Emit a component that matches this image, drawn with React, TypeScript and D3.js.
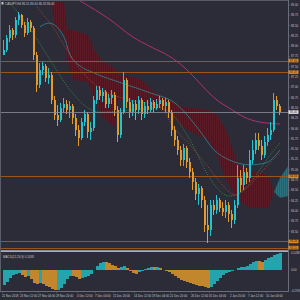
import React from 'react';
import * as d3 from 'd3';

// ---------- data ----------
const TITLE = 'CADJPY,H4  86.55 86.60 86.33 86.40';
const MACD_LABEL = 'MACD(12,26,9) 0.1438';
const FIRST_OPEN = 87.79;

const closes = [
  87.91, 88.20, 88.39, 88.27, 88.63, 88.76, 88.51, 88.32, 88.59, 88.44,
  87.79, 87.06, 87.42, 87.52, 87.23, 87.30, 86.69, 86.33, 86.21, 86.50,
  86.60, 86.45, 86.55, 86.26, 85.97, 85.77, 86.16, 86.35, 85.92, 86.01,
  86.69, 86.94, 86.79, 86.89, 86.60, 86.74, 86.81, 86.45, 85.84, 86.40,
  87.18, 86.64, 86.40, 86.60, 86.45, 86.69, 86.35, 86.55, 86.45, 86.64,
  86.50, 86.60, 86.69, 86.55, 86.64, 86.40, 85.97, 85.72, 85.48, 85.24,
  85.53, 85.19, 84.95, 84.70, 84.41, 84.56, 84.27, 83.66, 83.54, 84.14,
  84.02, 84.27, 84.07, 83.97, 84.14, 83.93, 83.78, 84.14, 84.80, 84.63,
  84.95, 84.80, 85.24, 85.48, 85.72, 85.58, 85.36, 85.67, 85.84, 85.97,
  86.69, 86.55, 86.40,
];
const highs = [
  88.15, 88.27, 88.51, 88.44, 88.71, 88.83, 88.78, 88.59, 88.68, 88.63,
  88.49, 87.86, 87.59, 87.62, 87.57, 87.47, 87.37, 86.79, 86.57, 86.62,
  86.74, 86.69, 86.67, 86.60, 86.35, 86.09, 86.26, 86.45, 86.40, 86.16,
  86.79, 87.03, 87.03, 86.98, 86.94, 86.84, 86.94, 86.89, 86.55, 86.50,
  87.37, 87.23, 86.74, 86.69, 86.69, 86.79, 86.74, 86.64, 86.69, 86.74,
  86.69, 86.72, 86.79, 86.74, 86.74, 86.69, 86.45, 86.06, 85.82, 85.58,
  85.63, 85.58, 85.29, 85.04, 84.80, 84.65, 84.61, 84.36, 84.14, 84.27,
  84.27, 84.39, 84.31, 84.22, 84.27, 84.22, 84.02, 84.27, 85.12, 84.99,
  85.12, 85.04, 85.48, 85.72, 85.89, 85.89, 85.72, 85.82, 86.01, 86.16,
  86.86, 86.79, 86.60,
];
const lows = [
  87.79, 87.86, 88.10, 88.15, 88.20, 88.51, 88.44, 88.22, 88.27, 88.34,
  87.66, 86.89, 86.98, 87.30, 87.13, 87.08, 86.60, 86.21, 86.06, 86.16,
  86.40, 86.35, 86.26, 86.11, 85.82, 85.58, 85.72, 86.06, 85.77, 85.72,
  85.94, 86.60, 86.69, 86.64, 86.50, 86.50, 86.60, 86.31, 85.67, 85.77,
  86.35, 86.50, 86.26, 86.31, 86.21, 86.35, 86.21, 86.26, 86.35, 86.40,
  86.40, 86.45, 86.50, 86.45, 86.40, 86.26, 85.82, 85.58, 85.36, 85.09,
  85.09, 85.04, 84.80, 84.51, 84.27, 84.14, 84.07, 83.49, 83.22, 83.39,
  83.90, 83.93, 83.97, 83.88, 83.83, 83.73, 83.59, 83.68, 84.07, 84.46,
  84.51, 84.65, 84.70, 85.14, 85.38, 85.48, 85.24, 85.29, 85.58, 85.72,
  85.92, 86.45, 86.33,
];

const macdHist = [
  -0.125, -0.100, -0.067, -0.042, -0.033, -0.025, -0.042, -0.058, -0.050, -0.075,
  -0.108, -0.117, -0.108, -0.117, -0.133, -0.142, -0.158, -0.167, -0.165, -0.150,
  -0.117, -0.075, -0.050, -0.052, -0.058, -0.075, -0.067, -0.058, -0.050, -0.033,
  0.004, 0.033, 0.058, 0.067, 0.066, 0.058, 0.042, 0.033, 0.017, 0.025,
  0.033, 0.017, -0.008, -0.025, -0.033, -0.017, -0.004, 0.008, 0.017, 0.025,
  0.024, 0.026, 0.017, 0.002, -0.008, -0.017, -0.033, -0.050, -0.067, -0.083,
  -0.092, -0.100, -0.108, -0.117, -0.125, -0.133, -0.136, -0.142, -0.150, -0.142,
  -0.117, -0.092, -0.067, -0.042, -0.025, -0.017, -0.008, 0.002, 0.017, 0.025,
  0.027, 0.033, 0.050, 0.067, 0.075, 0.073, 0.066, 0.083, 0.100, 0.108,
  0.125, 0.133, 0.142,
];

// Ichimoku cloud (knots on candle index, shifted forward)
const cloudIdx = [16, 17, 20, 21, 23, 28, 30, 33, 37, 38, 45, 50, 55, 60, 68, 71, 74, 78, 82, 88, 90, 92, 95];
const spanB = [89.05, 89.07, 89.07, 88.39, 88.39, 88.27, 87.91, 87.62, 87.47, 87.30, 87.23, 86.89, 86.69, 86.52, 86.45, 86.33, 85.97, 85.12, 84.99, 84.87, 84.46, 84.32, 84.36];
const spanA = [89.00, 88.44, 88.32, 87.66, 87.18, 87.13, 86.74, 86.26, 86.04, 86.69, 86.69, 86.50, 86.40, 86.01, 85.72, 85.36, 84.75, 84.27, 84.07, 84.07, 84.46, 84.80, 85.12];

// Moving averages (knots)
const greenIdx = [2, 9, 15, 22, 28, 32, 42, 52, 56, 62, 68, 71, 75, 79, 84, 88, 92];
const greenVal = [89.05, 88.39, 87.71, 86.94, 86.50, 86.40, 86.45, 86.50, 86.35, 85.72, 84.87, 84.56, 84.36, 84.46, 84.87, 85.29, 85.65];
const brownIdx = [11, 17, 21, 27, 32, 42, 52, 56, 62, 68, 72, 77, 81, 87, 92];
const brownVal = [88.95, 88.39, 87.91, 87.30, 86.98, 86.69, 86.55, 86.09, 85.60, 85.07, 84.70, 84.39, 84.56, 85.04, 85.41];
const tealIdx = [12, 15, 20, 22, 25, 30, 39, 49, 57, 65, 70, 75, 82, 87, 92];
const tealVal = [88.47, 88.56, 88.22, 87.79, 87.54, 87.35, 87.11, 86.86, 86.62, 85.97, 85.48, 85.24, 85.12, 85.16, 85.48];
const magIdx = [23, 26, 35, 43, 49, 55, 60, 64, 68, 71, 75, 80, 85, 92];
const magVal = [89.20, 89.07, 88.66, 88.22, 87.98, 87.76, 87.49, 87.20, 86.89, 86.69, 86.50, 86.28, 86.16, 86.11];

// Horizontal levels
const levels = [87.65, 87.37, 84.84, 83.26, 83.11];

// Axis labels
const priceTicks = d3.range(83.25, 89.01, 0.25);
const dateTickIdx = [0, 6, 12, 18, 25, 31, 37, 44, 50, 56, 63, 69, 76, 82, 88];
const dateLabels = [
  '21 Nov 2018', '23 Nov 12:00', '27 Nov 04:00', '29 Nov 20:00', '4 Dec 12:00',
  '7 Dec 04:00', '11 Dec 20:00', '14 Dec 12:00', '19 Dec 04:00', '21 Dec 20:00',
  '26 Dec 12:00', '31 Dec 04:00', '2 Jan 20:00', '7 Jan 12:00', '10 Jan 04:00',
];
const macdTicks = [0.1438, 0, -0.1709];

// ---------- style ----------
const BG = '#2b2c38';
const UP = '#22c4d0';
const DOWN = '#e39a2c';
const HIST_UP = '#26a4ae';
const HIST_DOWN = '#c2872c';
const TXT = '#c4c6ce';
const FONT = "'Liberation Sans', 'DejaVu Sans', sans-serif";

export default function App() {
  const x = d3.scaleLinear().domain([0, 95]).range([4, 289]);
  const y = d3.scaleLinear().domain([83.052, 89.12]).range([250, 0]);
  const ym = d3.scaleLinear().domain([-0.175, 0.15]).range([291, 252]);

  const knots = (idx: number[], val: number[]) => idx.map((d, i) => [d, val[i]] as [number, number]);
  const line = d3.line<[number, number]>().x(d => x(d[0])).y(d => y(d[1])).curve(d3.curveMonotoneX);

  const cloudPts = cloudIdx.map((d, i) => ({ i: d, a: spanA[i], b: spanB[i] }));
  const redPts = cloudPts.filter(p => p.b >= p.a);
  const crossK = redPts.length - 1;
  const tealPts = cloudPts.slice(crossK);
  const area = d3.area<{ i: number; a: number; b: number }>()
    .x(d => x(d.i)).y0(d => y(d.a)).y1(d => y(d.b));

  const last = closes[closes.length - 1];

  return (
    <svg width={300} height={300} style={{ position: 'fixed', left: 0, top: 0 }} fontFamily={FONT}>
      <defs>
        <clipPath id="main"><rect x={1} y={1} width={287} height={249} /></clipPath>
        <clipPath id="sub"><rect x={1} y={253} width={287} height={38} /></clipPath>
        <pattern id="hatchR" width={2} height={2} patternUnits="userSpaceOnUse">
          <rect width={2} height={2} fill="#4a1620" />
          <rect width={1} height={2} fill="#5a1b26" />
        </pattern>
        <pattern id="hatchT" width={2} height={2} patternUnits="userSpaceOnUse">
          <rect width={2} height={2} fill="#245f6a" />
          <rect width={1} height={2} fill="#2b727c" />
        </pattern>
      </defs>
      <rect width={300} height={300} fill={BG} />

      {/* main panel */}
      <g clipPath="url(#main)">
        <path d={area(redPts) || ''} fill="url(#hatchR)" />
        <path d={area(tealPts) || ''} fill="url(#hatchT)" />
        <path d={line(knots(magIdx, magVal)) || ''} fill="none" stroke="#b22d74" strokeWidth={1} />
        <path d={line(knots(tealIdx, tealVal)) || ''} fill="none" stroke="#2a8a96" strokeWidth={0.8} />
        <path d={line(knots(greenIdx, greenVal)) || ''} fill="none" stroke="#2e9a44" strokeWidth={0.9} strokeDasharray="1 1.4" />
        <path d={line(knots(brownIdx, brownVal)) || ''} fill="none" stroke="#a84a38" strokeWidth={0.9} strokeDasharray="1 1.4" />
        {levels.map((l, k) => (
          <line key={k} x1={1} x2={288} y1={Math.round(y(l)) + 0.5} y2={Math.round(y(l)) + 0.5} stroke="#9a5420" strokeWidth={1} />
        ))}
        <g shapeRendering="crispEdges">
          {closes.map((c, i) => {
            const o = i === 0 ? FIRST_OPEN : closes[i - 1];
            const col = c >= o ? UP : DOWN;
            const cx = Math.round(x(i));
            const top = y(Math.max(o, c));
            const h = Math.max(1, Math.abs(y(o) - y(c)));
            return (
              <g key={i}>
                <line x1={cx - 0.5} x2={cx - 0.5} y1={y(highs[i])} y2={y(lows[i])} stroke={col} strokeWidth={1} />
                <rect x={cx - 1} y={top} width={2} height={h} fill={col} />
              </g>
            );
          })}
        </g>
        <line x1={1} x2={288} y1={Math.round(y(last)) + 0.5} y2={Math.round(y(last)) + 0.5} stroke="#8d8f99" strokeWidth={0.8} />
      </g>

      {/* title */}
      <rect x={1.5} y={2} width={2} height={2.5} fill="#c8c8c8" />
      <text x={5} y={4.6} fontSize={3} fill={TXT}>{TITLE}</text>

      {/* separator */}
      <rect x={0} y={250.3} width={288} height={1.6} fill="#b8bac2" />

      {/* MACD */}
      <g clipPath="url(#sub)" shapeRendering="crispEdges">
        {macdHist.map((v, i) => {
          const prev = i === 0 ? v : macdHist[i - 1];
          const col = v >= prev ? HIST_UP : HIST_DOWN;
          const y0 = ym(0);
          const y1 = ym(v);
          return <rect key={i} x={x(i) - 1.5} y={Math.min(y0, y1)} width={3} height={Math.max(0.5, Math.abs(y1 - y0))} fill={col} />;
        })}
      </g>
      <text x={3} y={257.5} fontSize={3} fill={TXT}>{MACD_LABEL}</text>

      {/* frame */}
      <line x1={0.5} x2={0.5} y1={0} y2={292} stroke="#5a5c68" />
      <line x1={0} x2={288} y1={0.5} y2={0.5} stroke="#5a5c68" />
      <line x1={288.5} x2={288.5} y1={0} y2={292} stroke="#6a6c78" />
      <line x1={0} x2={288} y1={291.5} y2={291.5} stroke="#6a6c78" />

      {/* price axis */}
      {priceTicks.map((t, k) => (
        <g key={k}>
          <line x1={288} x2={290} y1={y(t)} y2={y(t)} stroke="#6a6c78" strokeWidth={0.6} />
          <text x={291} y={y(t) + 1} fontSize={2.8} fill={TXT}>{t.toFixed(2)}</text>
        </g>
      ))}
      {levels.map((l, k) => (
        <g key={k}>
          <rect x={288.5} y={y(l) - 1.8} width={10} height={3.6} fill="#e08a1c" />
          <text x={290} y={y(l) + 1} fontSize={2.8} fill="#2a2020">{l.toFixed(2)}</text>
        </g>
      ))}
      <rect x={288.5} y={y(last) - 1.8} width={10} height={3.6} fill="#e6e6ea" />
      <text x={290} y={y(last) + 1} fontSize={2.8} fill="#202028">{last.toFixed(2)}</text>

      {/* macd axis */}
      {macdTicks.map((t, k) => (
        <text key={k} x={291} y={ym(t) + 1} fontSize={2.8} fill={TXT}>{t === 0 ? '0.00' : t.toFixed(4)}</text>
      ))}

      {/* date axis */}
      {dateTickIdx.map((d, k) => (
        <g key={k}>
          <line x1={x(d) - 1.5} x2={x(d) - 1.5} y1={291.5} y2={293} stroke="#6a6c78" strokeWidth={0.6} />
          <text x={x(d) - 2} y={296.8} fontSize={2.9} fill={TXT}>{dateLabels[k]}</text>
        </g>
      ))}
    </svg>
  );
}
